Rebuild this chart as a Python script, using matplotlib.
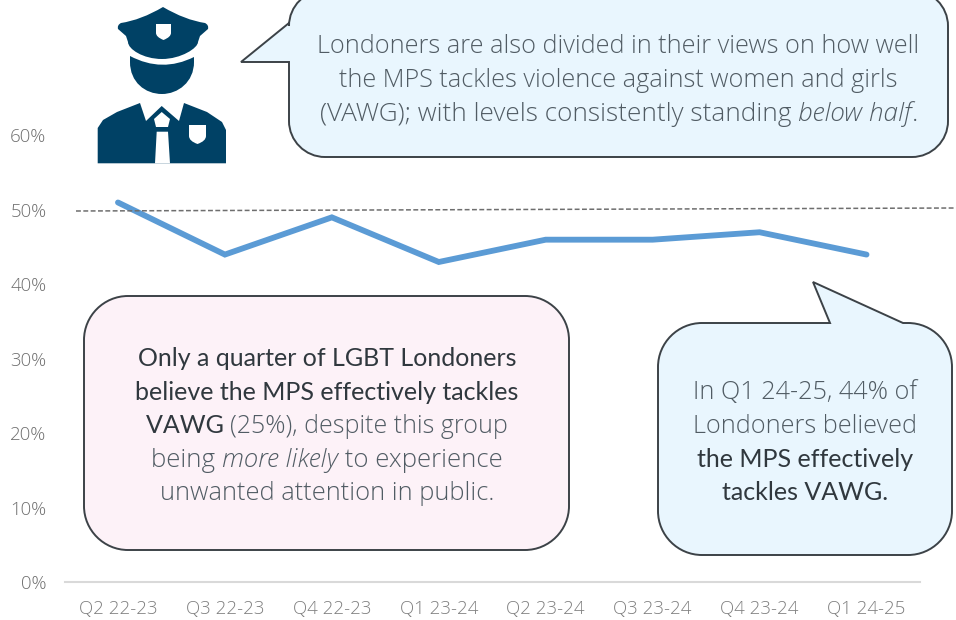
import matplotlib
matplotlib.use('Agg')
import matplotlib.pyplot as plt
from matplotlib.patches import PathPatch, Polygon
from matplotlib.path import Path

# datos
trimestres = ['Q2 22-23', 'Q3 22-23', 'Q4 22-23', 'Q1 23-24',
              'Q2 23-24', 'Q3 23-24', 'Q4 23-24', 'Q1 24-25']
valores = [51, 44, 49, 43, 46, 46, 47, 44]
ticks_y = [0, 10, 20, 30, 40, 50, 60]

GRIS = '#515c64'
OSCURO = '#30383e'
BORDE = '#3c4247'
AZUL_ICONO = '#004165'

fig = plt.figure(figsize=(9.56, 6.2), dpi=100)

# grafico principal: 0% en y=582, 60% en y=135.5
ax = fig.add_axes([64.5 / 956, 38 / 620, 855.5 / 956, 446.5 / 620])
ax.plot(range(len(valores)), valores, color='#5b9bd5', lw=4.2,
        solid_capstyle='round', solid_joinstyle='miter', clip_on=False)
ax.set_xlim(-0.5, 7.5)
ax.set_ylim(0, 60)
ax.set_xticks(range(len(trimestres)))
ax.set_xticklabels(trimestres, family='Open Sans', weight='light',
                   fontsize=13.4, color='#7f7f7f')
ax.set_yticks(ticks_y)
ax.set_yticklabels([f'{v}%' for v in ticks_y], family='Open Sans', weight='light',
                   fontsize=13.4, color='#6f6f6f')
ax.tick_params(length=0)
ax.tick_params(axis='x', pad=13)
ax.tick_params(axis='y', pad=13)
for lado in ['top', 'right', 'left']:
    ax.spines[lado].set_visible(False)
ax.spines['bottom'].set_color('#d9d9d9')
ax.spines['bottom'].set_linewidth(1.5)
ax.patch.set_alpha(0)

# capa en pixeles para globos e icono
capa = fig.add_axes([0, 0, 1, 1])
capa.set_xlim(0, 956)
capa.set_ylim(620, 0)
capa.axis('off')
capa.patch.set_alpha(0)

capa.plot([76, 956], [211, 208], color='#6e6e6e', lw=1.1, ls=(0, (3.2, 1.6)))


def globo(x0, y0, x1, y1, r, cola, lado, fondo):
    # rectangulo redondeado con una cola en el lado de arriba o izquierda
    k = 0.45 * r
    v = [(x0 + r, y0)]
    c = [Path.MOVETO]
    if lado == 'arriba':
        v += cola
        c += [Path.LINETO] * len(cola)
    v += [(x1 - r, y0), (x1 - k, y0), (x1, y0 + k), (x1, y0 + r),
          (x1, y1 - r), (x1, y1 - k), (x1 - k, y1), (x1 - r, y1),
          (x0 + r, y1), (x0 + k, y1), (x0, y1 - k), (x0, y1 - r)]
    c += [Path.LINETO, Path.CURVE4, Path.CURVE4, Path.CURVE4,
          Path.LINETO, Path.CURVE4, Path.CURVE4, Path.CURVE4,
          Path.LINETO, Path.CURVE4, Path.CURVE4, Path.CURVE4]
    if lado == 'izquierda':
        v += cola
        c += [Path.LINETO] * len(cola)
    v += [(x0, y0 + r), (x0, y0 + k), (x0 + k, y0), (x0 + r, y0), (x0 + r, y0)]
    c += [Path.LINETO, Path.CURVE4, Path.CURVE4, Path.CURVE4, Path.CLOSEPOLY]
    capa.add_patch(PathPatch(Path(v, c), facecolor=fondo, edgecolor=BORDE,
                             lw=1.4, joinstyle='miter', clip_on=False))


globo(289, -10, 948, 157, 36, [(289, 62), (241, 62), (289, 23)], 'izquierda', '#e9f6fe')
globo(84, 296, 569, 550, 44, [], 'arriba', '#fdf2f8')
globo(658, 323, 952, 555, 44, [(830, 323), (813, 282), (903, 323)], 'arriba', '#e9f6fe')

ESTILOS = {
    'n': dict(family='Open Sans', weight='light', color=GRIS),
    'i': dict(family='Open Sans', weight='light', style='italic', color=GRIS),
    'b': dict(family='Lato', weight='normal', color=OSCURO),
}
render = fig.canvas.get_renderer()


def linea(xc, y, partes, fs=18.2):
    # varios estilos en una misma linea, centrada en xc
    textos = [capa.text(0, y, t, fontsize=fs, va='baseline', ha='left', **ESTILOS[e])
              for e, t in partes]
    anchos = [t.get_window_extent(render).width for t in textos]
    x = xc - sum(anchos) / 2
    for t, a in zip(textos, anchos):
        t.set_x(x)
        x += a


linea(618.5, 53, [('n', 'Londoners are also divided in their views on how well')])
linea(618.5, 87, [('n', 'the MPS tackles violence against women and girls')])
linea(619, 121, [('n', '(VAWG); with levels consistently standing '), ('i', 'below half'), ('n', '.')], 18.8)

linea(327, 366, [('b', 'Only a quarter of LGBT Londoners')], 18)
linea(327, 400, [('b', 'believe the MPS effectively tackles')], 18)
linea(327, 433, [('b', 'VAWG '), ('n', '(25%), despite this group')], 18)
linea(327, 467, [('n', 'being '), ('i', 'more likely'), ('n', ' to experience')], 18.5)
linea(327, 500, [('n', 'unwanted attention in public.')], 18.4)

linea(805, 399, [('n', 'In Q1 24-25, 44% of')])
linea(805, 433, [('n', 'Londoners believed')])
linea(805, 467, [('b', 'the MPS effectively')], 18)
linea(805, 500, [('b', 'tackles VAWG.')], 18)

# icono del policia
M, L, C3, C4, Z = Path.MOVETO, Path.LINETO, Path.CURVE3, Path.CURVE4, Path.CLOSEPOLY
gorra = Path([(163, 7), (185, 20), (205, 23), (209, 25), (208, 29), (200, 36), (198, 42),
              (198, 48), (181, 59), (162, 59), (143, 59), (128, 49), (128, 42),
              (126, 36), (118, 29), (117, 25), (121, 23), (141, 20), (163, 7)],
             [M, C3, L, C3, L, L, L, C4, C4, C4, C4, C4, C4, L, L, C3, L, C3, L])
cara = Path([(130, 56), (162, 73), (194, 57), (194, 62), (194, 82), (178, 94), (162, 94),
             (145, 94), (130, 82), (130, 62), (130, 56)],
            [M, C3, C3, L, C4, C4, C4, C4, C4, C4, L])
cuerpo = [(97.7, 163.3), (97.7, 128), (103, 120), (117, 112), (140, 103), (146, 121),
          (161.7, 106), (179, 121), (184, 103), (207, 112), (222, 122), (226, 130),
          (226, 163.3)]
corbata = [(155, 163.3), (156.7, 131.7), (168, 131.7), (170, 163.3)]
nudo = [(161.7, 112), (170, 119), (168, 127), (156, 127), (154, 119)]
escudo_gorra = Path([(156, 24), (171, 24), (171, 33), (171, 37), (163.5, 40), (156, 37), (156, 33), (156, 24)],
                    [M, L, L, C3, C3, C3, C3, L])
escudo_pecho = Path([(189, 125), (206, 125), (206, 136), (206, 141), (197.5, 144), (189, 141), (189, 136), (189, 125)],
                    [M, L, L, C3, C3, C3, C3, L])
for forma in [gorra, cara]:
    capa.add_patch(PathPatch(forma, facecolor=AZUL_ICONO, edgecolor='none'))
capa.add_patch(Polygon(cuerpo, closed=True, facecolor=AZUL_ICONO, edgecolor='none'))
for forma in [corbata, nudo]:
    capa.add_patch(Polygon(forma, closed=True, facecolor='white', edgecolor='none'))
for forma in [escudo_gorra, escudo_pecho]:
    capa.add_patch(PathPatch(forma, facecolor='white', edgecolor='none'))

fig.savefig('out.png', dpi=100)
